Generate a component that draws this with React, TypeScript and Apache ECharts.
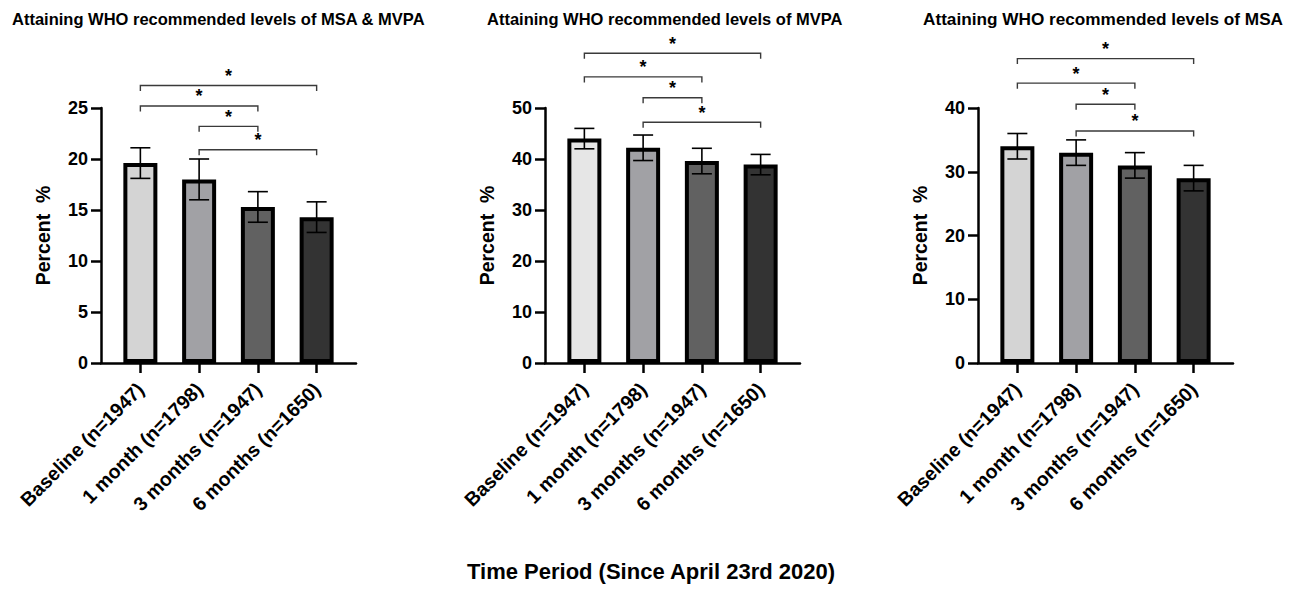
import React, { useEffect, useRef } from "react";
import * as echarts from "echarts";

const categories = ["Baseline (n=1947)", "1 month (n=1798)", "3 months (n=1947)", "6 months (n=1650)"];
const panelTitles = [
  "Attaining WHO recommended levels of MSA & MVPA",
  "Attaining WHO recommended levels of MVPA",
  "Attaining WHO recommended levels of MSA",
];
const bottomTitle = "Time Period (Since April 23rd 2020)";
const yAxisName = "Percent  %";

const meansBoth = [19.6, 18.0, 15.3, 14.3];
const errBoth = [1.5, 2.0, 1.5, 1.5];
const meansMVPA = [44.0, 42.2, 39.6, 38.9];
const errMVPA = [2.0, 2.5, 2.5, 2.0];
const meansMSA = [34.0, 33.0, 31.0, 29.0];
const errMSA = [2.0, 2.0, 2.0, 2.0];

const yMaxes = [25, 50, 40];
const yIntervals = [5, 10, 10];

// significance comparisons (category index pairs) and bracket heights (data units)
const comparisons = [[0, 3], [0, 2], [1, 2], [1, 3]];
const bracketLevelsBoth = [27.2, 25.2, 23.2, 20.9];
const bracketLevelsMVPA = [60.75, 56.1, 52.0, 47.2];
const bracketLevelsMSA = [47.75, 43.9, 40.6, 36.4];

const panels = [
  { means: meansBoth, errs: errBoth, levels: bracketLevelsBoth },
  { means: meansMVPA, errs: errMVPA, levels: bracketLevelsMVPA },
  { means: meansMSA, errs: errMSA, levels: bracketLevelsMSA },
];

const barColors = [
  ["#d4d4d4", "#a1a1a5", "#616161", "#333333"],
  ["#e6e6e6", "#a1a1a5", "#616161", "#333333"],
  ["#d4d4d4", "#a1a1a5", "#616161", "#333333"],
];

const FONT = "Liberation Sans, Arial, Helvetica, sans-serif";
const gridLefts = [101, 545, 978];
const titleLefts = [12, 487, 923];
const titleSizes = [16.5, 16.5, 17.2];

export default function App() {
  const ref = useRef<HTMLDivElement>(null);
  useEffect(() => {
    document.body.style.margin = "0";
    const chart = echarts.init(ref.current!, null, { renderer: "svg" });

    const grids: any[] = [];
    const xAxes: any[] = [];
    const yAxes: any[] = [];
    const series: any[] = [];
    const titles: any[] = [];

    panels.forEach((p, i) => {
      grids.push({ left: gridLefts[i], top: 108, width: 255, height: 255 });
      titles.push({
        text: panelTitles[i],
        left: titleLefts[i],
        top: 10,
        padding: 0,
        textStyle: { fontFamily: FONT, fontWeight: "bold", fontSize: titleSizes[i], color: "#000" },
      });
      xAxes.push({
        type: "value",
        gridIndex: i,
        min: -0.67,
        max: 3.67,
        splitLine: { show: false },
        axisLine: { onZero: false, lineStyle: { color: "#000", width: 2.5 } },
        axisTick: {
          show: true,
          customValues: [0, 1, 2, 3],
          length: 10,
          lineStyle: { color: "#000", width: 2.5 },
        },
        axisLabel: {
          customValues: [0, 1, 2, 3],
          formatter: (v: number) => categories[Math.round(v)] ?? "",
          rotate: 45,
          margin: 23,
          fontFamily: FONT,
          fontWeight: "bold",
          fontSize: 19.5,
          color: "#000",
        },
      });
      yAxes.push({
        type: "value",
        gridIndex: i,
        min: 0,
        max: yMaxes[i],
        interval: yIntervals[i],
        name: yAxisName,
        nameLocation: "middle",
        nameRotate: 90,
        nameGap: 48,
        nameTextStyle: { fontFamily: FONT, fontWeight: "bold", fontSize: 19.5, color: "#000" },
        splitLine: { show: false },
        axisLine: { show: true, onZero: false, lineStyle: { color: "#000", width: 2.5 } },
        axisTick: { show: true, length: 10, lineStyle: { color: "#000", width: 2.5 } },
        axisLabel: {
          margin: 13,
          fontFamily: FONT,
          fontWeight: "bold",
          fontSize: 18,
          color: "#000",
        },
      });
      series.push({
        type: "bar",
        xAxisIndex: i,
        yAxisIndex: i,
        barWidth: 34,
        z: 2,
        data: p.means.map((m, k) => ({
          value: [k, m],
          itemStyle: { color: barColors[i][k], borderColor: "#000", borderWidth: 4 },
        })),
      });
      series.push({
        type: "custom",
        xAxisIndex: i,
        yAxisIndex: i,
        z: 3,
        clip: false,
        data: p.means.map((m, k) => [k, m, p.errs[k]]),
        renderItem: (_params: any, api: any) => {
          const x = api.value(0);
          const m = api.value(1);
          const e = api.value(2);
          const top = api.coord([x, m + e]);
          const bot = api.coord([x, m - e]);
          const half = 10;
          const st = { stroke: "#000", lineWidth: 1.6 };
          return {
            type: "group",
            children: [
              { type: "line", shape: { x1: top[0], y1: top[1], x2: bot[0], y2: bot[1] }, style: st },
              { type: "line", shape: { x1: top[0] - half, y1: top[1], x2: top[0] + half, y2: top[1] }, style: st },
              { type: "line", shape: { x1: bot[0] - half, y1: bot[1], x2: bot[0] + half, y2: bot[1] }, style: st },
            ],
          };
        },
      });
      series.push({
        type: "custom",
        xAxisIndex: i,
        yAxisIndex: i,
        z: 3,
        clip: false,
        data: comparisons.map((c, k) => [c[0], c[1], p.levels[k]]),
        renderItem: (_params: any, api: any) => {
          const a = api.coord([api.value(0), api.value(2)]);
          const b = api.coord([api.value(1), api.value(2)]);
          const drop = 5.5;
          return {
            type: "group",
            children: [
              {
                type: "polyline",
                shape: { points: [[a[0], a[1] + drop], [a[0], a[1]], [b[0], b[1]], [b[0], b[1] + drop]] },
                style: { stroke: "#3a3a3a", lineWidth: 1.4, fill: null },
              },
              {
                type: "text",
                x: (a[0] + b[0]) / 2,
                y: a[1] - 9.5,
                style: {
                  text: "*",
                  font: "bold 18px " + FONT,
                  align: "center",
                  verticalAlign: "middle",
                  fill: "#000",
                },
              },
            ],
          };
        },
      });
    });

    titles.push({
      text: bottomTitle,
      left: "center",
      top: 560,
      padding: 0,
      textStyle: { fontFamily: FONT, fontWeight: "bold", fontSize: 22, color: "#000" },
    });

    chart.setOption({
      animation: false,
      backgroundColor: "#fff",
      title: titles,
      grid: grids,
      xAxis: xAxes,
      yAxis: yAxes,
      series,
    });
    return () => chart.dispose();
  }, []);
  return <div ref={ref} style={{ width: 1302, height: 609 }} />;
}
